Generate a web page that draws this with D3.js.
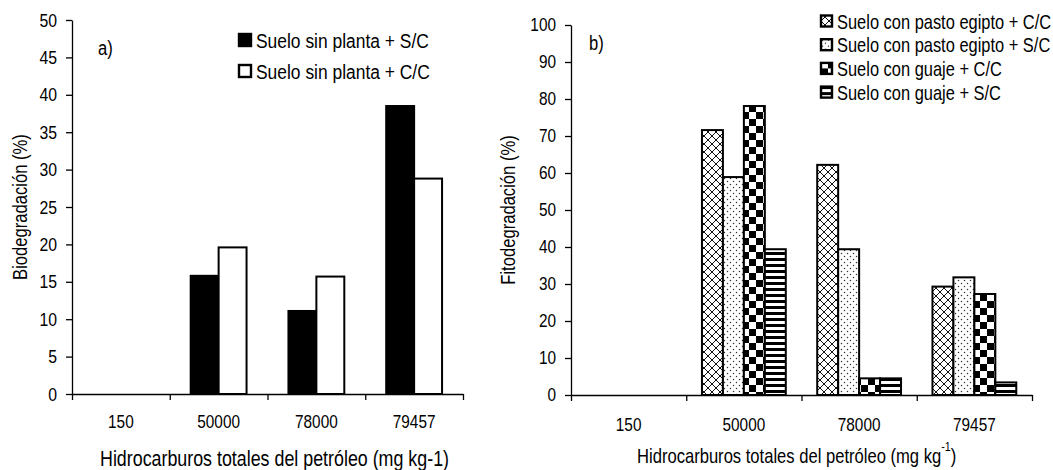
<!DOCTYPE html>
<html lang="es">
<head>
<meta charset="UTF-8">
<title>Biodegradación y fitodegradación</title>
<style>
    body { margin: 0; background: #fff; }
    svg text { font-family: "Liberation Sans", Arial, sans-serif; fill: #000; }
    .axis path, .axis line { stroke: #000; stroke-width: 1.3; }
    .axis text { font-size: 18.5px; }
    .bar { stroke: #000; stroke-width: 2; }
</style>
</head>
<body>
<script src="https://d3js.org/d3.v7.min.js"></script>
<script>
// data
const categories = ["150", "50000", "78000", "79457"];

const bioSeries = ["Suelo sin planta + S/C", "Suelo sin planta + C/C"];
const bioSC = [0, 15.8, 11.1, 38.5];
const bioCC = [0, 19.6, 15.7, 28.8];
const bioTicks = [0, 5, 10, 15, 20, 25, 30, 35, 40, 45, 50];

const fitoSeries = [
    "Suelo con pasto egipto + C/C",
    "Suelo con pasto egipto + S/C",
    "Suelo con guaje + C/C",
    "Suelo con guaje + S/C"
];
const pastoCC = [0, 71.6, 62.2, 29.3];
const pastoSC = [0, 58.9, 39.4, 31.8];
const guajeCC = [0, 78.1, 4.5, 27.3];
const guajeSC = [0, 39.4, 4.5, 3.4];
const fitoTicks = [0, 10, 20, 30, 40, 50, 60, 70, 80, 90, 100];

const W = 1053, H = 470;
const NARROW = 0.83;   // the original uses a condensed face
const svg = d3.select("body").append("svg").attr("width", W).attr("height", H);

// squeeze text horizontally to imitate the condensed font
function condense(sel, f = NARROW) {
    sel.each(function () {
        const len = this.getComputedTextLength();
        d3.select(this).attr("textLength", len * f).attr("lengthAdjust", "spacingAndGlyphs");
    });
}

// fill patterns for panel b
const defs = svg.append("defs");
function pattern(id, size) {
    const p = defs.append("pattern").attr("id", id)
        .attr("patternUnits", "userSpaceOnUse")
        .attr("width", size).attr("height", size);
    p.append("rect").attr("width", size).attr("height", size).attr("fill", "#fff");
    return p;
}
pattern("cross", 8).append("path")
    .attr("d", "M0,0L8,8M8,0L0,8")
    .attr("stroke", "#111").attr("stroke-width", 1);
const dots = pattern("dots", 6);
dots.append("circle").attr("cx", 1.5).attr("cy", 1.5).attr("r", 0.75).attr("fill", "#333");
dots.append("circle").attr("cx", 4.5).attr("cy", 4.5).attr("r", 0.75).attr("fill", "#333");
const chk = pattern("checker", 14);
chk.append("rect").attr("width", 7).attr("height", 7).attr("fill", "#000");
chk.append("rect").attr("x", 7).attr("y", 7).attr("width", 7).attr("height", 7).attr("fill", "#000");
pattern("stripes", 6).append("rect").attr("width", 6).attr("height", 3).attr("fill", "#000");

function panel(opt) {
    const g = svg.append("g");
    const x0 = d3.scaleBand().domain(categories).range([opt.left, opt.right]);
    const n = opt.series.length;
    const bw = x0.bandwidth() / (n + 1.5);
    const x1 = d3.scaleBand().domain(d3.range(n))
        .range([0.75 * bw, 0.75 * bw + n * bw]);
    const y = d3.scaleLinear().domain([0, opt.max]).range([opt.bottom, opt.top]);

    // bars
    opt.values.forEach((vals, s) => {
        g.selectAll(null)
            .data(vals.map((v, i) => ({ c: categories[i], v })).filter(d => d.v > 0))
            .enter().append("rect")
            .attr("class", "bar")
            .attr("x", d => x0(d.c) + x1(s))
            .attr("y", d => y(d.v))
            .attr("width", x1.bandwidth())
            .attr("height", d => y(0) - y(d.v))
            .attr("fill", opt.fills[s]);
    });

    // y axis
    const ya = g.append("g").attr("class", "axis")
        .attr("transform", `translate(${opt.left},0)`)
        .call(d3.axisLeft(y).tickValues(opt.ticks).tickSize(6).tickSizeOuter(0).tickPadding(9));
    ya.selectAll("text").style("font-size", opt.yTickSize + "px");
    condense(ya.selectAll("text"));

    // x axis: ticks on category boundaries, labels at centres
    const xb = d3.scaleLinear().domain([0, categories.length]).range([opt.left, opt.right]);
    g.append("g").attr("class", "axis")
        .attr("transform", `translate(0,${opt.bottom})`)
        .call(d3.axisBottom(xb).tickValues(d3.range(categories.length + 1))
            .tickFormat("").tickSize(6).tickSizeOuter(0));
    const xa = g.append("g").attr("class", "axis")
        .attr("transform", `translate(0,${opt.bottom})`)
        .call(d3.axisBottom(x0).tickSize(0).tickPadding(opt.labelPad))
        .call(a => a.select(".domain").remove());
    condense(xa.selectAll("text"));

    // y title
    const yt = g.append("text")
        .attr("transform", `translate(${opt.yTitleX},${(opt.top + opt.bottom) / 2}) rotate(-90)`)
        .attr("text-anchor", "middle").attr("dominant-baseline", "central")
        .style("font-size", "20px").text(opt.yTitle);
    condense(yt);

    // panel letter
    condense(g.append("text").attr("x", opt.letterX).attr("y", opt.letterY)
        .attr("dominant-baseline", "central")
        .style("font-size", "20px").text(opt.letter));

    // legend
    const lg = g.selectAll(null).data(opt.series).enter().append("g")
        .attr("transform", (d, i) => `translate(${opt.legX},${opt.legY + i * opt.legStep})`);
    lg.append("rect")
        .attr("x", 0).attr("y", -opt.sw / 2).attr("width", opt.sw).attr("height", opt.sw)
        .attr("fill", (d, i) => opt.fills[i])
        .attr("stroke", "#000").attr("stroke-width", 2.4);
    lg.append("g").attr("transform", `translate(${opt.sw + 5},1) scale(${NARROW},1)`)
        .append("text").attr("x", 0).attr("y", 0)
        .attr("dominant-baseline", "central")
        .style("font-size", opt.legSize + "px").text(d => d);
    return g;
}

const a = panel({
    left: 72, right: 463, top: 20, bottom: 394, max: 50, ticks: bioTicks, yTickSize: 19,
    series: bioSeries, values: [bioSC, bioCC], fills: ["#000", "#fff"],
    yTitle: "Biodegradación (%)", yTitleX: 20, labelPad: 21,
    letter: "a)", letterX: 98, letterY: 48,
    legX: 239, legY: 40, legStep: 31, sw: 12, legSize: 21
});
// x titles: squeezed with a horizontal scale so the superscript stays in place
a.append("g").attr("transform", `translate(100,458) scale(${NARROW},1)`)
    .append("text").attr("x", 0).attr("y", 0)
    .attr("dominant-baseline", "central")
    .style("font-size", "21.5px").text("Hidrocarburos totales del petróleo (mg kg-1)");

const b = panel({
    left: 571, right: 1032, top: 25, bottom: 395, max: 100, ticks: fitoTicks, yTickSize: 18.5,
    series: fitoSeries, values: [pastoCC, pastoSC, guajeCC, guajeSC],
    fills: ["url(#cross)", "url(#dots)", "url(#checker)", "url(#stripes)"],
    yTitle: "Fitodegradación (%)", yTitleX: 508, labelPad: 23,
    letter: "b)", letterX: 589, letterY: 43,
    legX: 821, legY: 21, legStep: 23.7, sw: 11, legSize: 19.8
});
const bt = b.append("g").attr("transform", `translate(637,455) scale(${NARROW},1)`)
    .append("text").attr("x", 0).attr("y", 0)
    .attr("dominant-baseline", "central")
    .style("font-size", "20px");
bt.append("tspan").text("Hidrocarburos totales del petróleo (mg kg");
bt.append("tspan").attr("dy", -8).style("font-size", "13px").text("-1");
bt.append("tspan").attr("dy", 8).text(")");
</script>
</body>
</html>
